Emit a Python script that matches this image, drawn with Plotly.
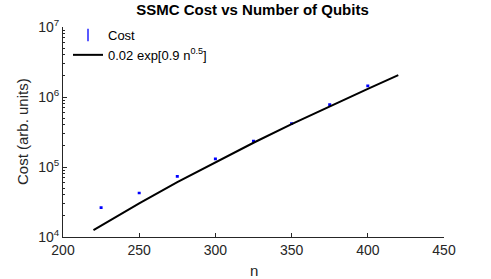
import plotly.graph_objects as go

# Data
n_pts = [225, 250, 275, 300, 325, 350, 375, 400]
cost = [2.63e4, 4.25e4, 7.36e4, 1.31e5, 2.35e5, 4.16e5, 7.77e5, 1.44e6]
cost_err = [3e2, 5e2, 8e2, 1.5e3, 2.6e3, 4.6e3, 8.5e3, 1.6e4]

n_fit = [220, 250, 275, 300, 325, 350, 375, 400, 420]
cost_fit = [1.254e4, 3.03e4, 6.07e4, 1.176e5, 2.22e5, 4.1e5, 7.42e5, 1.31e6, 2.05e6]

x_ticks = [200, 250, 300, 350, 400, 450]
y_ticks = [1e4, 1e5, 1e6, 1e7]
y_tick_text = ["10<sup>4</sup>", "10<sup>5</sup>", "10<sup>6</sup>", "10<sup>7</sup>"]

FONT = "Liberation Sans, Arial, sans-serif"
AX = "#262626"
W, H = 491, 279
L, R, T, B = 63, 47, 27, 42
PW, PH = W - L - R, H - T - B

fig = go.Figure()
fig.add_trace(go.Scatter(
    x=n_pts, y=cost, mode="markers", name="Cost", showlegend=False,
    marker=dict(color="blue", size=1, opacity=0),
    error_y=dict(type="data", array=cost_err, visible=True, color="blue",
                 thickness=2, width=1.5),
))
# legend entry for the error-bar series
fig.add_trace(go.Scatter(
    x=[None], y=[None], mode="markers", name="Cost",
    marker=dict(color="blue", size=9, symbol="line-ns", line=dict(width=1.3, color="blue")),
))
fig.add_trace(go.Scatter(
    x=n_fit, y=cost_fit, mode="lines", name="0.02 exp[0.9 n<sup>0.5</sup>]",
    line=dict(color="black", width=2),
))

fig.update_layout(
    width=W, height=H,
    margin=dict(l=L, r=R, t=T, b=B, autoexpand=False),
    paper_bgcolor="white", plot_bgcolor="white",
    font=dict(family=FONT, size=14, color=AX),
    title=dict(text="<b>SSMC Cost vs Number of Qubits</b>", x=252.5 / W, xanchor="center",
               y=1 - 10 / H, yanchor="middle", font=dict(size=15, color="black")),
    showlegend=True,
    legend=dict(x=5 / PW, y=1 + 7 / PH, xanchor="left", yanchor="top",
                bgcolor="rgba(0,0,0,0)", font=dict(size=13, color="black"),
                itemwidth=30),
    annotations=[
        dict(text="Cost (arb. units)", xref="paper", yref="paper",
             x=-(L - 22) / PW, y=0.5, xanchor="center", yanchor="middle",
             textangle=-90, showarrow=False, font=dict(size=15, color=AX)),
        dict(text="n", xref="paper", yref="paper",
             x=0.5, y=-(270 - (H - B)) / PH, xanchor="center", yanchor="middle",
             showarrow=False, font=dict(size=15, color=AX)),
    ],
)
fig.update_xaxes(
    range=[200, 450], tickvals=x_ticks, ticks="inside", ticklen=4,
    showline=True, linecolor=AX, linewidth=1, tickcolor=AX, showgrid=False,
    zeroline=False, mirror=False, automargin=False,
)
fig.update_yaxes(
    type="log", range=[4, 7], tickvals=y_ticks, ticktext=y_tick_text,
    ticks="inside", ticklen=4, showline=True, linecolor=AX, linewidth=1,
    tickcolor=AX, showgrid=False, zeroline=False, mirror=False, automargin=False,
    minor=dict(ticks="inside", ticklen=2, tickcolor=AX, dtick="D1", showgrid=False),
)
fig.write_html("out.html", config={"displayModeBar": False},
               post_script="document.body.style.margin='0';document.body.style.overflow='hidden';")
